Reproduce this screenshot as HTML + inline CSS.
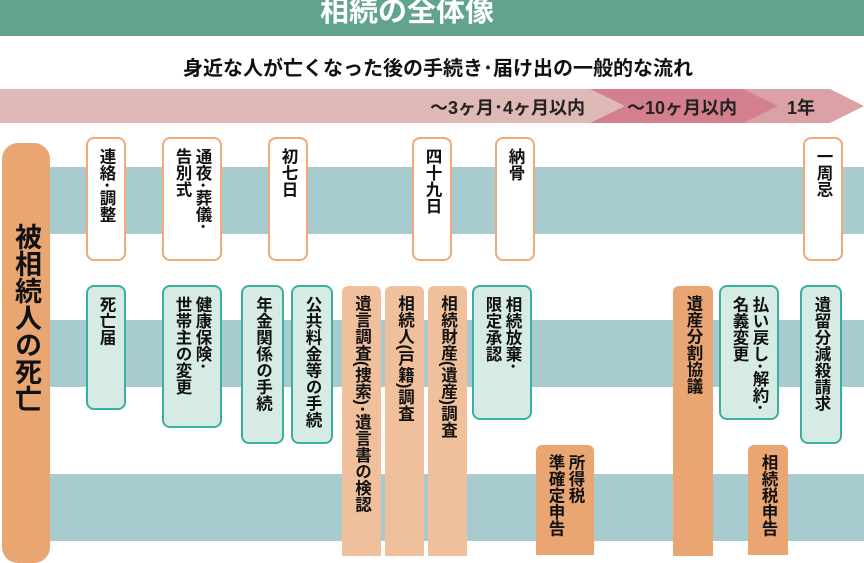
<!DOCTYPE html>
<html><head><meta charset="utf-8"><style>
*{margin:0;padding:0;box-sizing:border-box}
body{width:864px;height:547px;overflow:hidden;background:#fff;position:relative;font-family:"Liberation Sans","Noto Sans CJK JP",sans-serif;}
.abs{position:absolute}
.band{position:absolute;left:48px;width:816px;height:67px;background:#a8cbcf}
.v{position:absolute;display:flex;justify-content:center;align-items:flex-start;padding-top:9px;border-radius:8px}
.v span{writing-mode:vertical-rl;font-size:16.5px;font-weight:bold;line-height:20px;color:#111;white-space:nowrap}
.w{background:#fff;border:2px solid #f0a977}
.g{background:#d7ebe5;border:2px solid #3aaea0}
.lo{background:#f0c09d;border-radius:6px 6px 0 0}
.do{background:#e9a673;border-radius:6px 6px 0 0}
</style></head><body>
<div class="abs" style="left:0;top:0;width:864px;height:36px;background:#61a38f"></div>
<div class="abs" style="left:320px;top:-6px;white-space:nowrap;color:#fff;font-size:29px;font-weight:bold;line-height:36px">相続の全体像</div>
<div class="abs" style="left:0;top:55px;width:876px;text-align:center;font-size:20px;font-weight:bold;line-height:28px;color:#111">身近な人が亡くなった後の手続き･届け出の一般的な流れ</div>
<svg class="abs" style="left:0;top:89px" width="864" height="35">
<polygon points="0,0 590,0 625,17 590,34 0,34" fill="#dfb9b6"/>
<polygon points="590,0 765,0 800,17 765,34 590,34 625,17" fill="#dca1a4"/>
<polygon points="590,0 743,0 778,17 743,34 590,34 625,17" fill="#d47f90"/>
<polygon points="765,0 830,0 864,17 830,34 765,34 778,17" fill="#dca1a4"/>
<text x="430" y="25" font-size="18" font-weight="bold" fill="#222" font-family="Liberation Sans, Noto Sans CJK JP, sans-serif">～3ヶ月･4ヶ月以内</text>
<text x="627" y="25" font-size="18" font-weight="bold" fill="#222" font-family="Liberation Sans, Noto Sans CJK JP, sans-serif">～10ヶ月以内</text>
<text x="787" y="25" font-size="18" font-weight="bold" fill="#222" font-family="Liberation Sans, Noto Sans CJK JP, sans-serif">1年</text>
</svg>
<div class="band" style="top:167px"></div>
<div class="band" style="top:320px"></div>
<div class="band" style="top:474px"></div>
<div class="abs" style="left:2px;top:143px;width:48px;height:420px;background:#e9a673;border-radius:16px;writing-mode:vertical-rl;font-size:27px;font-weight:bold;line-height:48px;padding-top:80px;color:#111">被相続人の死亡</div>

<div class="v w" style="left:86px;top:137px;width:40px;height:124px"><span>連絡･調整</span></div>
<div class="v w" style="left:162px;top:137px;width:60px;height:124px"><span>通夜･葬儀･<br>告別式</span></div>
<div class="v w" style="left:268px;top:137px;width:40px;height:124px"><span>初七日</span></div>
<div class="v w" style="left:412px;top:137px;width:40px;height:124px"><span>四十九日</span></div>
<div class="v w" style="left:495px;top:137px;width:40px;height:124px"><span>納骨</span></div>
<div class="v w" style="left:803px;top:137px;width:40px;height:124px"><span>一周忌</span></div>

<div class="v g" style="left:86px;top:285px;width:40px;height:125px"><span>死亡届</span></div>
<div class="v g" style="left:162px;top:285px;width:60px;height:143px"><span>健康保険･<br>世帯主の変更</span></div>
<div class="v g" style="left:241px;top:285px;width:43px;height:159px"><span>年金関係の手続</span></div>
<div class="v g" style="left:291px;top:285px;width:42px;height:159px"><span>公共料金等の手続</span></div>
<div class="v g" style="left:472px;top:285px;width:60px;height:135px"><span>相続放棄･<br>限定承認</span></div>
<div class="v g" style="left:719px;top:285px;width:60px;height:135px"><span>払い戻し･解約･<br>名義変更</span></div>
<div class="v g" style="left:800px;top:285px;width:42px;height:159px"><span>遺留分減殺請求</span></div>

<div class="v lo" style="left:342px;top:286px;width:39px;height:270px"><span>遺言調査(捜索)･遺言書の検認</span></div>
<div class="v lo" style="left:385px;top:286px;width:39px;height:270px"><span>相続人(戸籍)調査</span></div>
<div class="v lo" style="left:428px;top:286px;width:39px;height:270px"><span>相続財産(遺産)調査</span></div>
<div class="v do" style="left:536px;top:445px;width:58px;height:110px"><span>所得税<br>準確定申告</span></div>
<div class="v do" style="left:673px;top:286px;width:40px;height:270px"><span>遺産分割協議</span></div>
<div class="v do" style="left:748px;top:445px;width:40px;height:110px"><span>相続税申告</span></div>
</body></html>
